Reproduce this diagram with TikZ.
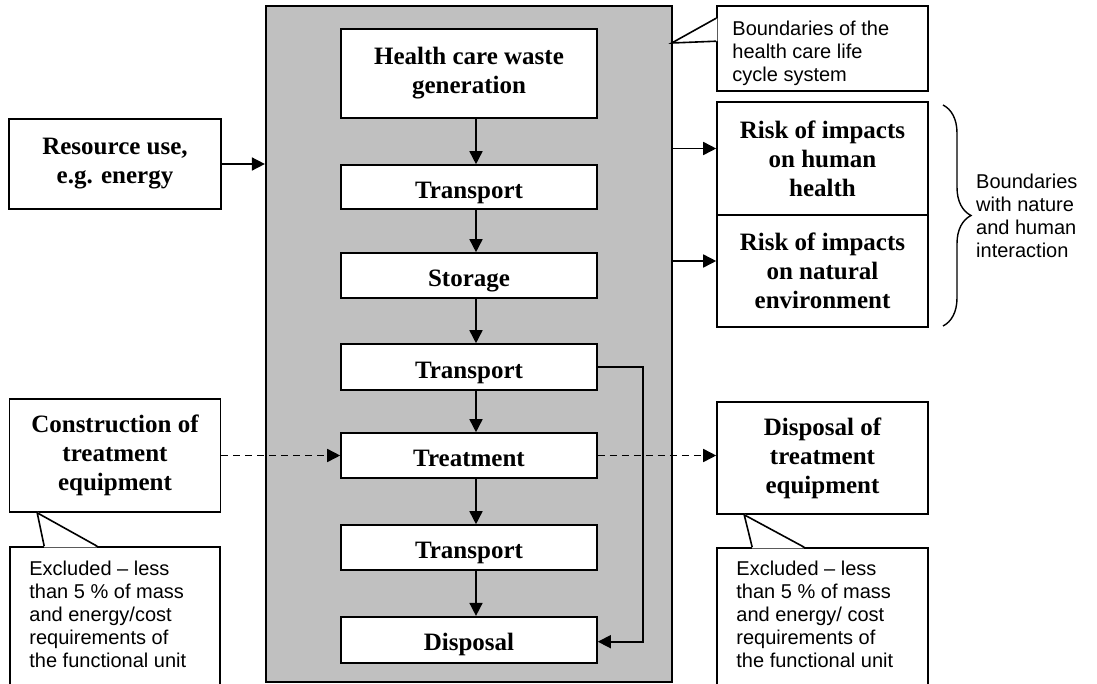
\documentclass[tikz,border=0pt]{standalone}
\usepackage{fontspec}
\setmainfont{Liberation Serif}
\setsansfont{Liberation Sans}
\usetikzlibrary{arrows.meta,decorations.pathreplacing}
\definecolor{lcsgray}{RGB}{192,192,192}

\begin{document}
\begin{tikzpicture}[x=1pt,y=-1pt,
  stage/.style={draw=black, line width=1.6pt, fill=white, inner sep=0pt, align=center,
    font=\fontsize{25}{29}\selectfont\bfseries},
  onerow/.style={stage, text height=22pt, text depth=0pt},
  note/.style={draw=black, line width=1.6pt, fill=white, inner sep=0pt},
  notetext/.style={font=\sffamily\fontsize{20}{23}\selectfont, align=left, inner sep=0pt, anchor=north west},
  flow/.style={line width=1.6pt, -{Triangle[length=13pt,width=13pt]}},
  outside/.style={flow, dash pattern=on 7pt off 5pt}]
\useasboundingbox (0,0) rectangle (1097,683);
\clip (0,0) rectangle (1097,683);

% life cycle system
\node[draw=black, line width=1.6pt, fill=lcsgray, minimum width=406, minimum height=676] (lcs) at (468.7,344) {};
\node[stage, minimum width=256, minimum height=89] (gen) at (469,73.5) {Health care waste\\generation};
\node[onerow, minimum width=256, minimum height=44] (tr1) at (469,187) {Transport};
\node[onerow, minimum width=256, minimum height=45] (stor) at (469,275.5) {Storage};
\node[onerow, minimum width=256, minimum height=46] (tr2) at (469,367) {Transport};
\node[onerow, minimum width=256, minimum height=45] (treat) at (469,455.5) {Treatment};
\node[onerow, minimum width=256, minimum height=45] (tr3) at (469,547.5) {Transport};
\node[onerow, minimum width=256, minimum height=46] (disp) at (469,639.7) {Disposal};
\foreach \a/\b in {gen/tr1,tr1/stor,stor/tr2,tr2/treat,treat/tr3,tr3/disp}
  \draw[flow] ([xshift=7]\a.south) -- ([xshift=7]\b.north);
\draw[flow] (tr2.east) -- ++(45,0) |- ([yshift=-2]disp.east);

% inputs
\node[stage, minimum width=212, minimum height=90] (res) at (115,164) {Resource use,\\e.g. energy};
\draw[flow] (res.east) -- (res.east -| lcs.west);
\node[stage, minimum width=211, minimum height=113] (cons) at (115,455.5) {Construction of\\treatment\\equipment};
\draw[outside] (cons.east) -- (treat.west);

% outputs
\node[stage, minimum width=211, minimum height=113] (hum) at (822.5,158.5) {Risk of impacts\\on human\\health};
\node[stage, minimum width=211, minimum height=112] (env) at (822.5,271) {Risk of impacts\\on natural\\environment};
\coordinate (humin) at ([yshift=10]hum.west);
\coordinate (envin) at ([yshift=10]env.west);
\draw[flow] (humin -| lcs.east) -- (humin);
\draw[flow] (envin -| lcs.east) -- (envin);
\node[stage, minimum width=211, minimum height=112] (deq) at (822.5,458) {Disposal of\\treatment\\equipment};
\draw[outside] (treat.east) -- (treat.east -| deq.west);

% brace
\draw[line width=1.4pt, decorate, decoration={brace, amplitude=28pt}] (943,105) -- (943,326);
\node[notetext, anchor=west] (bndtxt) at (976,216) {Boundaries\\with nature\\and human\\interaction};

% callouts
\node[note, minimum width=211, minimum height=85] (sysnote) at (822.5,48.5) {};
\coordinate (systip) at (671.7,43);
\fill[white] ([xshift=1.2,yshift=-13]sysnote.north west) -- (systip) -- ([xshift=1.2,yshift=-36]sysnote.north west) -- cycle;
\draw[line width=1.6pt] ([yshift=-13]sysnote.north west) -- (systip) -- ([yshift=-36]sysnote.north west);
\node[notetext] (systxt) at ([xshift=16,yshift=-15.5]sysnote.north west) {Boundaries of the\\health care life\\cycle system};

\node[note, minimum width=210, minimum height=160] (consnote) at (115,627) {};
\fill[white] ([xshift=28.5,yshift=1]cons.south west) -- ([xshift=35,yshift=-1.2]consnote.north west) -- ([xshift=88,yshift=-1.2]consnote.north west) -- cycle;
\draw[line width=1.6pt] ([xshift=35]consnote.north west) -- ([xshift=28.5]cons.south west) -- ([xshift=88]consnote.north west);
\node[notetext] (constxt) at ([xshift=20,yshift=-14.5]consnote.north west) {Excluded -- less\\than 5 \% of mass\\and energy/cost\\requirements of\\the functional unit};

\node[note, minimum width=211, minimum height=160] (deqnote) at (822.5,628) {};
\fill[white] ([xshift=28,yshift=1]deq.south west) -- ([xshift=36,yshift=-1.2]deqnote.north west) -- ([xshift=88,yshift=-1.2]deqnote.north west) -- cycle;
\draw[line width=1.6pt] ([xshift=36]deqnote.north west) -- ([xshift=28]deq.south west) -- ([xshift=88]deqnote.north west);
\node[notetext] (deqtxt) at ([xshift=20,yshift=-14]deqnote.north west) {Excluded -- less\\than 5 \% of mass\\and energy/ cost\\requirements of\\the functional unit};
\end{tikzpicture}
\end{document}
